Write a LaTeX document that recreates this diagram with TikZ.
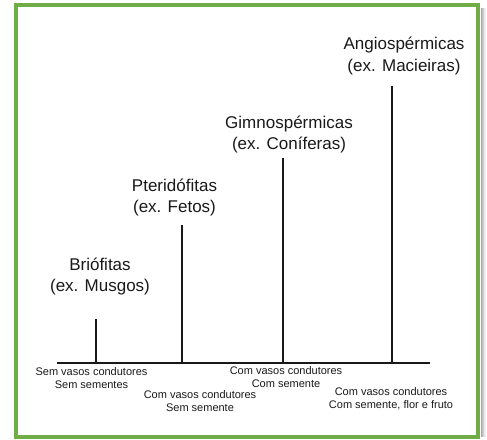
\documentclass[tikz,border=0pt]{standalone}
\usepackage{fontspec}
\setmainfont{Liberation Sans}
\definecolor{framegreen}{RGB}{112,173,71}
\definecolor{txt}{RGB}{25,25,25}
\begin{document}
\begin{tikzpicture}[x=1pt,y=-1pt,
  big/.style={align=center,inner sep=0pt,text=txt,font=\fontsize{17}{21}\selectfont},
  small/.style={align=center,inner sep=0pt,text=txt,font=\fontsize{11}{13.2}\selectfont},
  stem/.style={draw=black!90,line width=1.2pt}]
\useasboundingbox (0,0) rectangle (487,439);
% shadow
\foreach \i/\o in {1/0.35,2/0.25,3/0.17,4/0.1,5/0.05}{
  \draw[black,opacity=\o,line width=1pt] (480+\i,8) -- (480+\i,437);
}
\draw[framegreen,line width=4pt] (16,5) rectangle (478,436.5);
% base line
\coordinate (bl) at (57,363);
\coordinate (br) at (430,363);
\draw[stem] (bl) -- (br);
% stems
\coordinate (t1) at (96,319);
\coordinate (t2) at (182,225);
\coordinate (t3) at (283,158);
\coordinate (t4) at (392,86);
\draw[stem] (t1) -- (t1 |- bl);
\draw[stem] (t2) -- (t2 |- bl);
\draw[stem] (t3) -- (t3 |- bl);
\draw[stem] (t4) -- (t4 |- bl);
% labels
\node[big] (n1) at (100,277) {Briófitas\\(ex. Musgos)};
\node[big] (n2) at (174.5,197.5) {Pteridófitas\\(ex. Fetos)};
\node[big] (n3) at (289,134) {Gimnospérmicas\\(ex. Coníferas)};
\node[big] (n4) at (404,56) {Angiospérmicas\\(ex. Macieiras)};
\node[small] (s1) at (91.5,378) {Sem vasos condutores\\Sem sementes};
\node[small] (s2) at (200,401) {Com vasos condutores\\Sem semente};
\node[small] (s3) at (286,377) {Com vasos condutores\\Com semente};
\node[small] (s4) at (391,398.5) {Com vasos condutores\\Com semente, flor e fruto};
\end{tikzpicture}
\end{document}
